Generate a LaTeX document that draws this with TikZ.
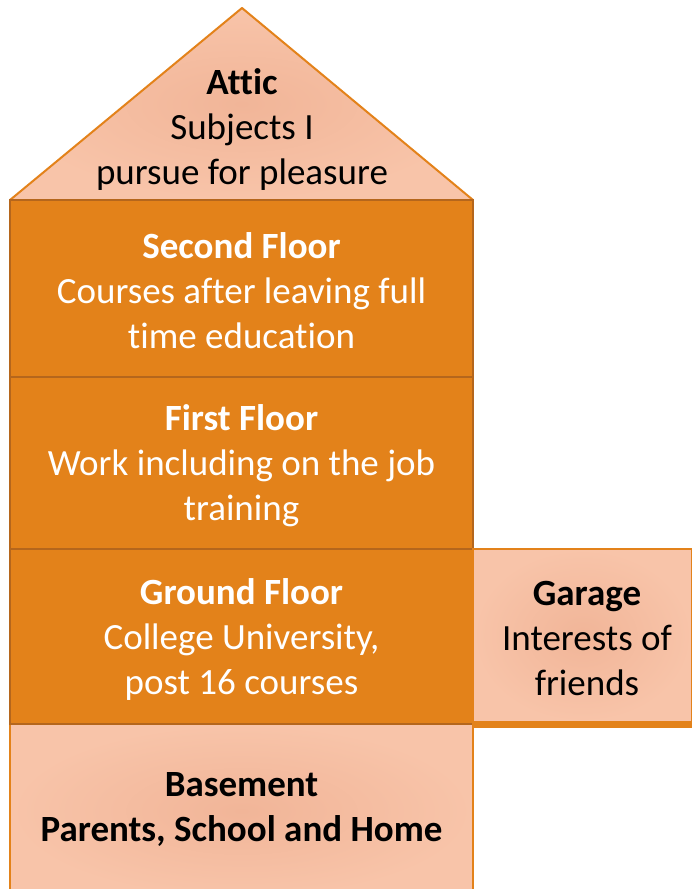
\documentclass[tikz,border=0pt]{standalone}
\usepackage{fontspec}
\setmainfont[Ligatures={NoCommon}]{Carlito}
\usetikzlibrary{calc}
\definecolor{deeporange}{HTML}{E3821A}
\definecolor{edgebrown}{HTML}{B5661C}
\definecolor{peachout}{HTML}{F8C4A9}
\definecolor{peachin}{HTML}{F1B598}
\tikzset{
  bigtext/.style={font=\fontsize{37}{45}\selectfont, align=center, inner sep=0pt},
  floorbox/.style={rectangle, draw=edgebrown, line width=1.5pt, fill=deeporange,
    minimum width=463pt, inner sep=0pt},
  whitetext/.style={bigtext, text=white},
  peachshade/.style={inner color=peachin, outer color=peachout},
  lightbox/.style={rectangle, draw=deeporange, line width=2pt, shading=radial,
    peachshade, inner sep=0pt},
}
\begin{document}
\begin{tikzpicture}[x=1pt,y=-1pt]
\useasboundingbox (0,0) rectangle (692,889);
% attic roof
\coordinate (roofL) at (10,200);
\coordinate (roofT) at (242,8);
\coordinate (roofR) at (473,200);
\shade[peachshade, draw=deeporange, line width=2pt, line join=round] (roofL) -- (roofT) -- (roofR) -- cycle;
\node[bigtext] (attic) at (242,129) {\textbf{Attic}\\Subjects I\\pursue for pleasure};
% basement
\coordinate (bL) at (10,724);
\coordinate (bR) at (473,898);
\shade[peachshade, draw=deeporange, line width=2pt] (bL) rectangle (bR);
\node[bigtext] (basement) at (241.5,809) {\textbf{Basement}\\\textbf{Parents, School and Home}};
% floors
\node[floorbox, minimum height=177pt] (second) at (241.5,288.5) {};
\node[whitetext] (secondtext) at ($(second.center)+(0,2.5)$)
  {\textbf{Second Floor}\\Courses after leaving full\\time education};
\node[floorbox, minimum height=172pt] (first) at (241.5,463) {};
\node[whitetext] (firsttext) at ($(first.center)+(0,2.5)$)
  {\textbf{First Floor}\\Work including on the job\\training};
\node[floorbox, minimum height=175pt] (ground) at (241.5,636.5) {};
\node[whitetext] (groundtext) at ($(ground.center)+(0,2.5)$)
  {\textbf{Ground Floor}\\College University,\\post 16 courses};
% garage
\node[lightbox, minimum width=219pt, minimum height=173pt] (garage) at (582.5,635.5) {};
\node[bigtext] (garagetext) at ($(garage.center)+(4.5,3)$)
  {\textbf{Garage}\\Interests of\\friends};
\draw[deeporange, line width=6pt] ([yshift=-2pt]garage.south west) -- ([yshift=-2pt]garage.south east);
\end{tikzpicture}
\end{document}
